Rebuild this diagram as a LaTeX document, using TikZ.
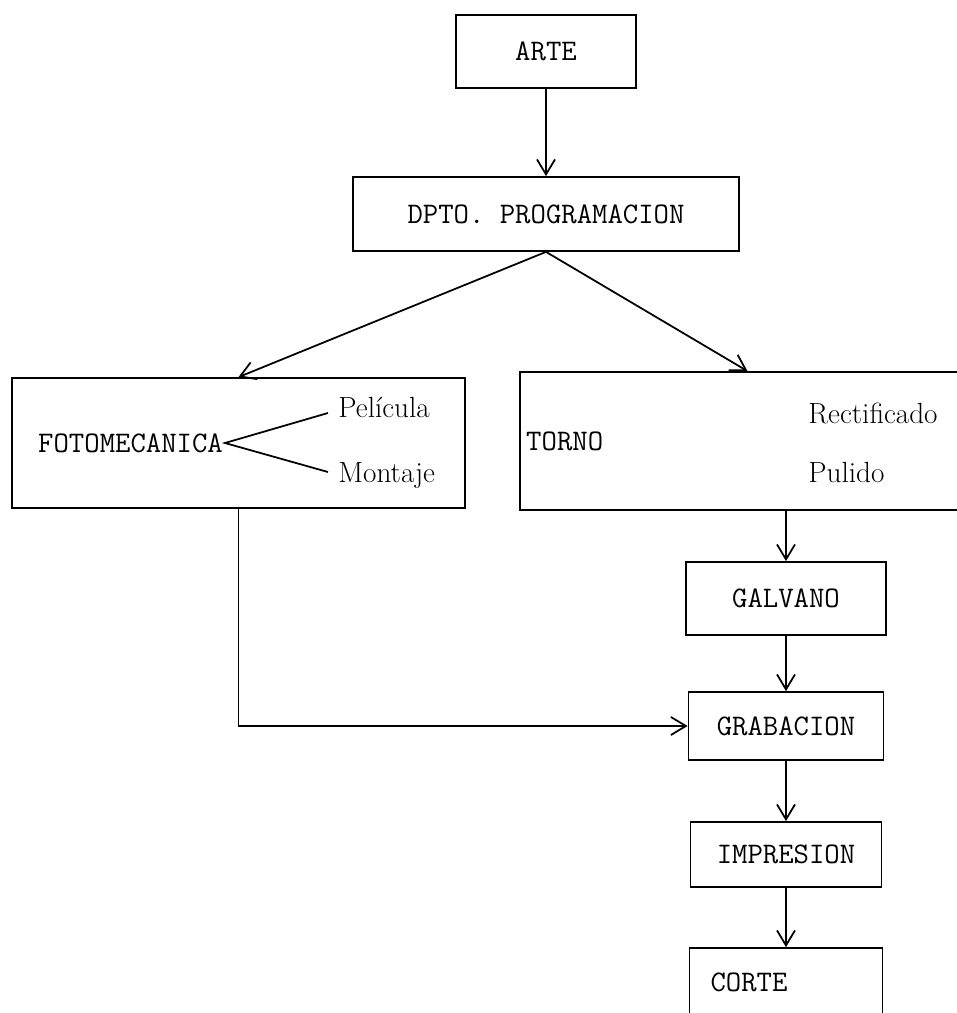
\documentclass[tikz,border=0pt]{standalone}
\usepackage{tikz}
\usetikzlibrary{positioning,arrows.meta}
\newcommand{\tmono}{\fontsize{17}{20}\selectfont\ttfamily}
\newcommand{\rmlbl}{\fontsize{16.6}{20}\selectfont\rmfamily}
\tikzset{
  box/.style={rectangle, draw=black, line width=1pt, inner sep=0pt,
              align=center, font=\tmono},
  boxlbl/.style={font=\tmono, inner sep=1pt},
  sub/.style={font=\rmlbl, inner sep=0pt, anchor=base west},
  flow/.style={-{Straight Barb[length=3mm,width=3.6mm]}, line width=1pt},
  wedge/.style={line width=1pt},
}
\begin{document}
\begin{tikzpicture}[x=0.2mm, y=-0.2mm]
  \useasboundingbox (0,0) rectangle (957,1013);
  \clip (0,0) rectangle (957,1013);

  % ===== top of the chart ==============================================
  \node[box, minimum width=36mm, minimum height=14.6mm] (arte) at (546,51.5) {ARTE};
  \node[box, minimum width=77.2mm, minimum height=14.8mm] (dpto) at (546,214)
       {DPTO. PROGRAMACION};

  % ===== the two branches ===============================================
  \node[box, minimum width=90.6mm, minimum height=26mm] (foto) at (238.5,443) {};
  \node[boxlbl, anchor=west, right=5mm of foto.west] (fotolbl) {FOTOMECANICA};
  \node[sub] (pel) at (338,417) {Película};
  \node[sub] (mon) at (338,482) {Montaje};

  \node[box, minimum width=91mm, minimum height=27.6mm] (torno) at (747.5,441) {};
  \node[boxlbl, anchor=west, right=1mm of torno.west] (tornolbl) {TORNO};
  \node[sub] (rect) at (808,423) {Rectificado};
  \node[sub] (pul) at (808,482) {Pulido};

  % ===== right-hand column ==============================================
  \node[box, minimum width=40mm, minimum height=14.6mm] (galv) at (786,598.5) {GALVANO};
  \node[box, minimum width=39mm, minimum height=13.6mm] (grab) at (786,726) {GRABACION};
  \node[box, minimum width=38.2mm, minimum height=13mm] (impr) at (786,854.5) {IMPRESION};
  \node[box, minimum width=38.6mm, minimum height=13.6mm, text width=30.2mm,
        align=left] (corte) at (786,982) {CORTE};

  % ===== connectors =====================================================
  \draw[flow] (arte.south) -- (dpto.north);
  \draw[flow] (dpto.south) -- (foto.north);
  \draw[flow] (dpto.south) -- (torno.north);
  % fotomecanica splits in two
  \draw[wedge] ([shift={(-10,-4)}]pel.base west) -- (fotolbl.east)
       -- ([shift={(-10,-10)}]mon.base west);
  % down the right column
  \draw[flow] (torno.south -| galv.north) -- (galv.north);
  \draw[flow] (galv.south) -- (grab.north);
  \draw[flow] (grab.south) -- (impr.north);
  \draw[flow] (impr.south) -- (corte.north);
  % fotomecanica joins at grabacion
  \draw[flow] (foto.south) |- (grab.west);

\end{tikzpicture}
\end{document}
